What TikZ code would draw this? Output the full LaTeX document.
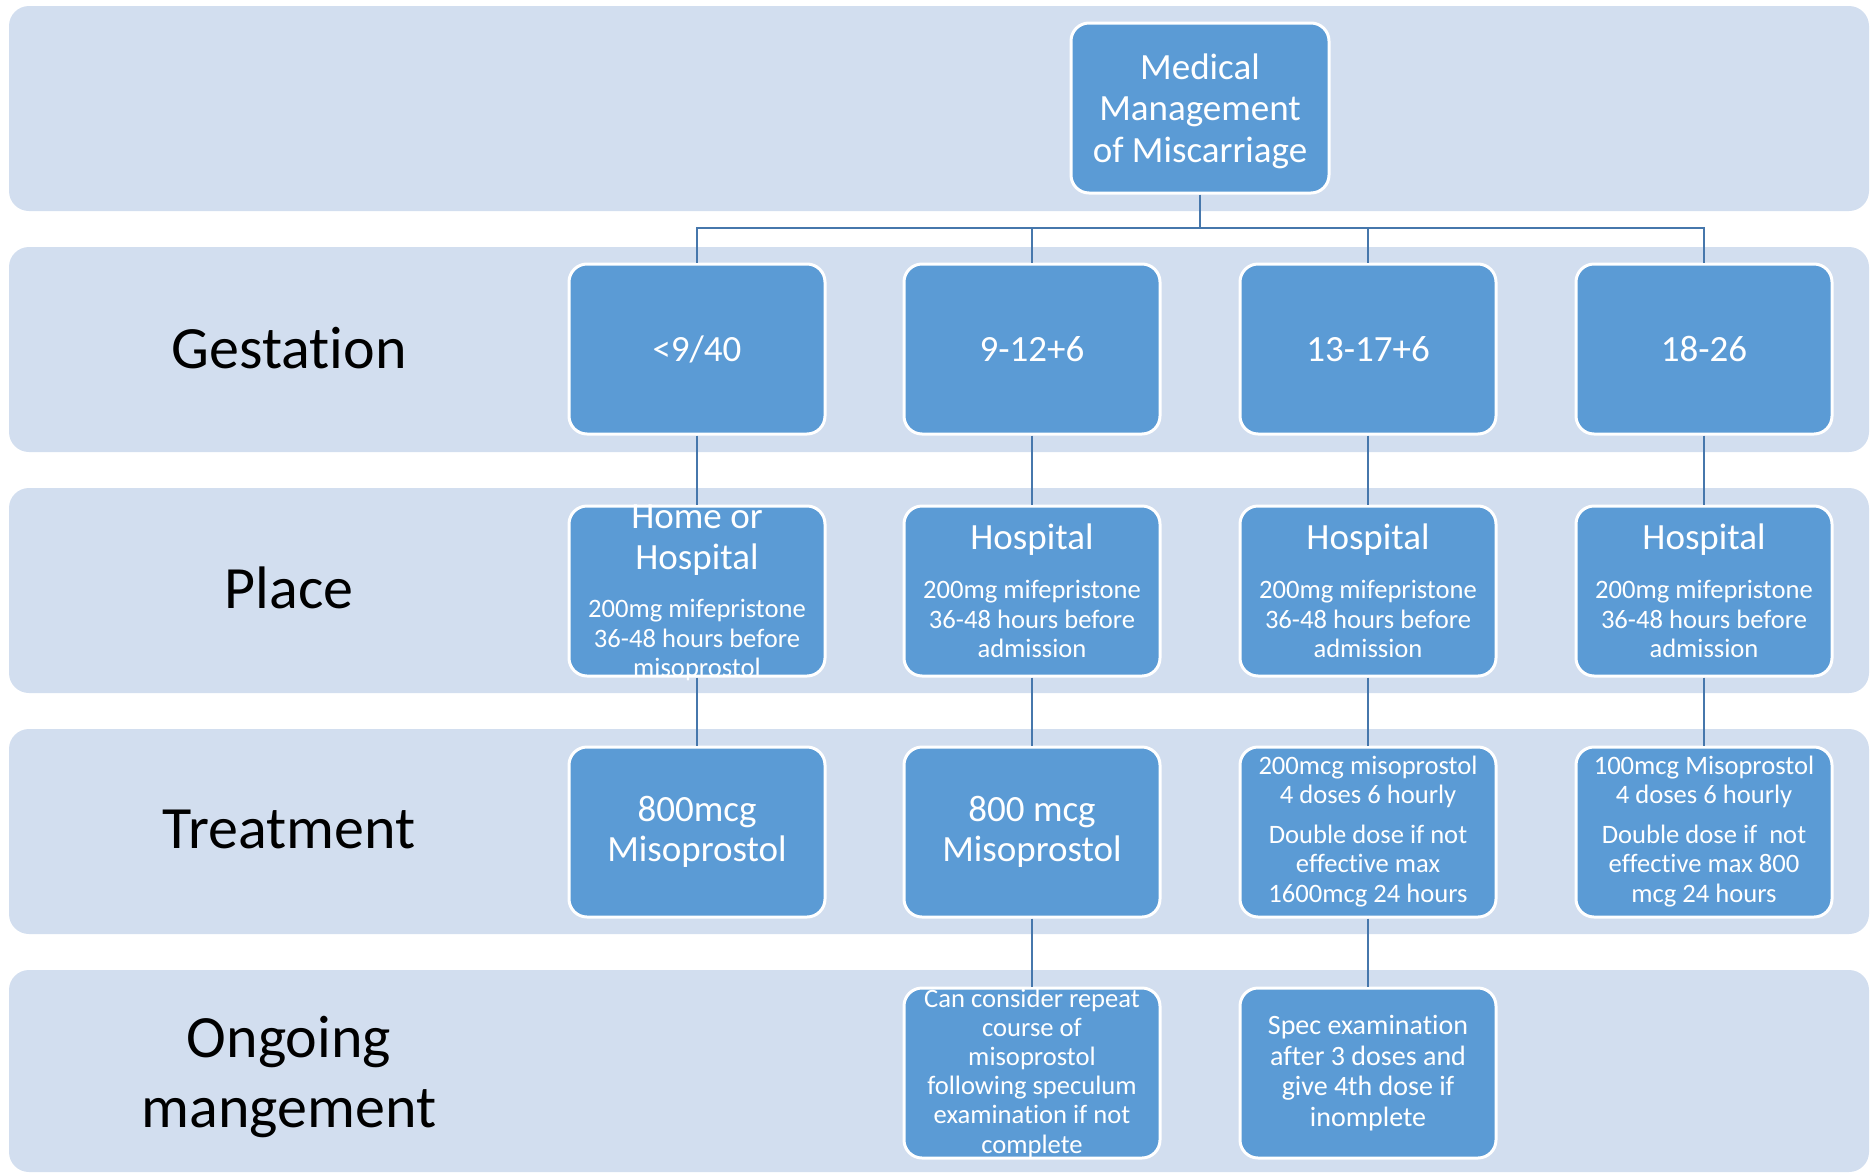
\documentclass[tikz,border=0pt]{standalone}
\usepackage{fontspec}
\setmainfont{Carlito}[Ligatures=NoCommon]
\begin{document}
\begin{tikzpicture}[x=0.5pt,y=-0.5pt,
  band/.style={fill=bandfill,draw=none,rounded corners=10pt},
  box/.style={draw=white,line width=1.5pt,fill=boxfill,rounded corners=9pt,
    minimum width=128pt,minimum height=85pt,inner sep=0pt},
  big/.style={text=white,align=center,inner sep=0pt,
    font=\fontsize{18.5pt}{20.8pt}\selectfont},
  small/.style={text=white,align=center,inner sep=0pt,
    font=\fontsize{13.3pt}{14.6pt}\selectfont},
  rowlabel/.style={text=black,align=center,inner sep=0pt,
    font=\fontsize{30pt}{35pt}\selectfont},
  link/.style={draw=linkcol,line width=1.3pt}]
\definecolor{bandfill}{HTML}{D2DEEF}
\definecolor{boxfill}{HTML}{5B9BD5}
\definecolor{linkcol}{HTML}{4677AC}

\useasboundingbox (0,0) rectangle (1870,1173);

% horizontal bands
\fill[band] (9,6) rectangle (1869,211);
\fill[band] (9,247) rectangle (1869,452);
\fill[band] (9,488) rectangle (1869,693);
\fill[band] (9,729) rectangle (1869,934);
\fill[band] (9,970) rectangle (1869,1172);

% row labels
\node[rowlabel] (lg) at (289,348) {Gestation};
\node[rowlabel] (lp) at (289,588) {Place};
\node[rowlabel] (lt) at (289,829) {Treatment};
\node[rowlabel] (lo) at (289,1077) {Ongoing\\mangement};

% title
\node[box,minimum width=129pt] (top) at (1200,108) {};
\node[big] (topt) at (1200,111) {Medical\\Management\\of Miscarriage};

% gestation row
\node[box] (g1) at (697,349) {};
\node[box] (g2) at (1032,349) {};
\node[box] (g3) at (1368,349) {};
\node[box] (g4) at (1704,349) {};
\node[big] (g1t) at (g1) {<9/40};
\node[big] (g2t) at (g2) {9-12+6};
\node[big] (g3t) at (g3) {13-17+6};
\node[big] (g4t) at (g4) {18-26};

% place row
\node[box] (p1) at (697,591) {};
\node[box] (p2) at (1032,591) {};
\node[box] (p3) at (1368,591) {};
\node[box] (p4) at (1704,591) {};
\node[big,font=\fontsize{18.5pt}{20.25pt}\selectfont] (p1h) at (697,540) {Home or\\Hospital};
\node[small] (p1b) at (697,640) {200mg mifepristone\\36-48 hours before\\misoprostol};
\node[big] (p2h) at (1032,540) {Hospital};
\node[small] (p2b) at (1032,619) {200mg mifepristone\\36-48 hours before\\admission};
\node[big] (p3h) at (1368,540) {Hospital};
\node[small] (p3b) at (1368,619) {200mg mifepristone\\36-48 hours before\\admission};
\node[big] (p4h) at (1704,540) {Hospital};
\node[small] (p4b) at (1704,619) {200mg mifepristone\\36-48 hours before\\admission};

% treatment row
\node[box] (t1) at (697,832) {};
\node[box] (t2) at (1032,832) {};
\node[box] (t3) at (1368,832) {};
\node[box] (t4) at (1704,832) {};
\node[big,font=\fontsize{18.5pt}{20.25pt}\selectfont] (t1t) at (t1) {800mcg\\Misoprostol};
\node[big,font=\fontsize{18.5pt}{20.25pt}\selectfont] (t2t) at (t2) {800 mcg\\Misoprostol};
\node[small] (t3a) at (1368,782) {200mcg misoprostol\\4 doses 6 hourly};
\node[small] (t3b) at (1368,866) {Double dose if not\\effective max\\1600mcg 24 hours};
\node[small] (t4a) at (1704,782) {100mcg Misoprostol\\4 doses 6 hourly};
\node[small] (t4b) at (1704,866) {Double dose if \ not\\effective max 800\\mcg 24 hours};

% ongoing management row
\node[box] (o2) at (1032,1073) {};
\node[box] (o3) at (1368,1073) {};
\node[small] (o2t) at (1032,1073) {Can consider repeat\\course of\\misoprostol\\following speculum\\examination if not\\complete};
\node[small,font=\fontsize{14pt}{15.3pt}\selectfont] (o3t) at (1368,1073) {Spec examination\\after 3 doses and\\give 4th dose if\\inomplete};

% connectors
\coordinate (bus) at (1200,228);
\draw[link] (top.south) -- (bus);
\draw[link] (g1.north) |- (bus) -| (g4.north);
\draw[link] (g2.north) -- (g2.north |- bus);
\draw[link] (g3.north) -- (g3.north |- bus);
\foreach \i in {1,2,3,4}{
  \draw[link] (g\i.south) -- (p\i.north);
  \draw[link] (p\i.south) -- (t\i.north);
}
\draw[link] (t2.south) -- (o2.north);
\draw[link] (t3.south) -- (o3.north);
\end{tikzpicture}
\end{document}
